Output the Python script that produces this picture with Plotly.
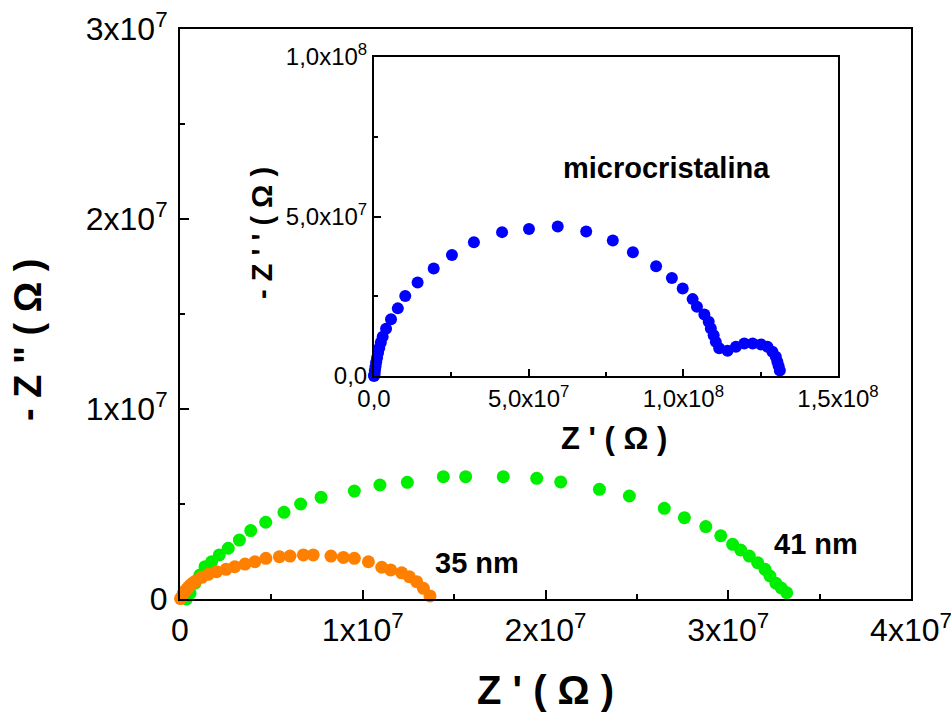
import plotly.graph_objects as go

# ---- data (units: Ohm) ----
green_x = [0.036, 0.055, 0.082, 0.109, 0.137, 0.173, 0.215, 0.264, 0.325, 0.387, 0.469, 0.569, 0.660,
           0.772, 0.954, 1.094, 1.244, 1.441, 1.563, 1.769, 1.952, 2.083, 2.295, 2.459, 2.650, 2.760,
           2.877, 2.959, 3.024, 3.068, 3.115, 3.161, 3.201, 3.228, 3.261, 3.290, 3.320]
green_y = [0.0, 0.030, 0.083, 0.126, 0.170, 0.196, 0.232, 0.267, 0.310, 0.360, 0.404, 0.456, 0.500,
           0.535, 0.568, 0.600, 0.614, 0.644, 0.644, 0.644, 0.635, 0.616, 0.577, 0.542, 0.477, 0.428,
           0.381, 0.333, 0.288, 0.258, 0.226, 0.191, 0.156, 0.121, 0.083, 0.058, 0.033]

orange_x = [0.003, 0.009, 0.018, 0.027, 0.036, 0.047, 0.058, 0.072, 0.088, 0.119, 0.155, 0.200, 0.252,
            0.300, 0.356, 0.410, 0.470, 0.544, 0.602, 0.675, 0.729, 0.826, 0.894, 0.954, 1.031, 1.104,
            1.153, 1.213, 1.255, 1.295, 1.332, 1.368]
orange_y = [0.002, 0.009, 0.030, 0.041, 0.051, 0.063, 0.074, 0.085, 0.096, 0.114, 0.130, 0.144, 0.156,
            0.170, 0.184, 0.196, 0.214, 0.223, 0.226, 0.232, 0.232, 0.226, 0.219, 0.214, 0.196, 0.167,
            0.153, 0.138, 0.117, 0.091, 0.056, 0.016]

blue_x = [0.00, 0.01, 0.02, 0.03, 0.05, 0.07, 0.10, 0.13, 0.17, 0.22, 0.28, 0.39, 0.55, 0.77, 1.01, 1.41,
          1.93, 2.52, 3.23, 4.14, 5.01, 5.94, 6.86, 7.72, 8.37, 9.12, 9.63, 9.98, 10.30, 10.44, 10.68,
          10.82, 10.89, 10.98, 11.05, 11.16, 11.43, 11.70, 11.97, 12.24, 12.51, 12.72, 12.88, 12.99,
          13.04, 13.08, 13.12]
blue_y = [0.00, 0.02, 0.08, 0.18, 0.30, 0.43, 0.57, 0.72, 0.88, 1.05, 1.23, 1.48, 1.78, 2.12, 2.51, 2.93,
          3.37, 3.79, 4.19, 4.51, 4.61, 4.69, 4.53, 4.25, 3.88, 3.44, 3.07, 2.74, 2.41, 2.17, 1.93,
          1.70, 1.49, 1.28, 1.07, 0.87, 0.79, 0.92, 1.02, 1.02, 0.99, 0.92, 0.76, 0.60, 0.45,
          0.31, 0.17]
SCALE = 1e7

main_xticks = [0, 1e7, 2e7, 3e7, 4e7]
main_xticktext = ["0", "1x10<sup>7</sup>", "2x10<sup>7</sup>", "3x10<sup>7</sup>", "4x10<sup>7</sup>"]
main_yticks = [0, 1e7, 2e7, 3e7]
main_yticktext = ["0", "1x10<sup>7</sup>", "2x10<sup>7</sup>", "3x10<sup>7</sup>"]
inset_xticks = [0, 5e7, 1e8, 1.5e8]
inset_xticktext = ["0,0", "5,0x10<sup>7</sup>", "1,0x10<sup>8</sup>", "1,5x10<sup>8</sup>"]
inset_yticks = [0, 5e7, 1e8]
inset_yticktext = ["0,0", "5,0x10<sup>7</sup>", "1,0x10<sup>8</sup>"]

FONT = "Arial, Liberation Sans, sans-serif"
NARROW = "Liberation Sans Narrow, Arial Narrow, Arial, Liberation Sans, sans-serif"

fig = go.Figure()
fig.add_trace(go.Scatter(x=[v * SCALE for v in green_x], y=[v * SCALE for v in green_y], mode="markers",
                         marker=dict(color="#00EE00", size=13), cliponaxis=False, xaxis="x", yaxis="y"))
fig.add_trace(go.Scatter(x=[v * SCALE for v in orange_x], y=[v * SCALE for v in orange_y], mode="markers",
                         marker=dict(color="#FF8000", size=13), cliponaxis=False, xaxis="x", yaxis="y"))
fig.add_trace(go.Scatter(x=[v * SCALE for v in blue_x], y=[v * SCALE for v in blue_y], mode="markers",
                         marker=dict(color="#0000FF", size=12), cliponaxis=False, xaxis="x2", yaxis="y2"))

L, R, T, B = 180, 40, 29, 116
PW, PH = 951 - L - R, 715 - T - B


def px(xp):
    return (xp - L) / PW


def py(yp):
    return (715 - B - yp) / PH


axis_common = dict(showline=True, linecolor="black", linewidth=2, mirror=True, ticks="inside",
                   tickcolor="black", tickwidth=2, showgrid=False, zeroline=False, tickmode="array",
                   automargin=False, ticklabeloverflow="allow")

fig.update_layout(
    width=951, height=715, margin=dict(l=L, r=R, t=T, b=B, autoexpand=False),
    plot_bgcolor="white", paper_bgcolor="white", showlegend=False,
    font=dict(family=FONT, color="black"),
    xaxis=dict(**axis_common, range=[0, 4e7], tickvals=main_xticks, ticktext=main_xticktext, ticklen=9,
               tickfont=dict(size=32, family=NARROW), ticklabelstandoff=2,
               minor=dict(ticks="inside", ticklen=5, tickwidth=2, tickcolor="black",
                          tickmode="linear", tick0=0, dtick=5e6)),
    yaxis=dict(**axis_common, range=[0, 3e7], tickvals=main_yticks, ticktext=main_yticktext, ticklen=9,
               tickfont=dict(size=32, family=NARROW), ticklabelstandoff=4,
               minor=dict(ticks="inside", ticklen=5, tickwidth=2, tickcolor="black",
                          tickmode="linear", tick0=0, dtick=5e6)),
    xaxis2=dict(**axis_common, range=[0, 1.5e8], domain=[px(374), px(838)], anchor="y2",
                tickvals=inset_xticks, ticktext=inset_xticktext, ticklen=7,
                tickfont=dict(size=24, family=NARROW),
                minor=dict(ticks="inside", ticklen=4, tickwidth=2, tickcolor="black",
                           tickmode="linear", tick0=0, dtick=2.5e7)),
    yaxis2=dict(**axis_common, range=[0, 1e8], domain=[py(376), py(57)], anchor="x2",
                tickvals=inset_yticks, ticktext=inset_yticktext, ticklen=7,
                tickfont=dict(size=24, family=NARROW),
                minor=dict(ticks="inside", ticklen=4, tickwidth=2, tickcolor="black",
                           tickmode="linear", tick0=0, dtick=2.5e7)),
)

annotations = [
    dict(text="<b>35 nm</b>", x=1.625e7, y=0.189e7, xref="x", yref="y", showarrow=False,
         xanchor="center", yanchor="middle", font=dict(size=29)),
    dict(text="<b>41 nm</b>", x=3.48e7, y=0.289e7, xref="x", yref="y", showarrow=False,
         xanchor="center", yanchor="middle", font=dict(size=29)),
    dict(text="<b>microcristalina</b>", x=px(666), y=py(168), xref="paper", yref="paper", showarrow=False,
         xanchor="center", yanchor="middle", font=dict(size=29)),
    dict(text="<b>Z ' ( Ω )</b>", x=px(545), y=py(690), xref="paper", yref="paper", showarrow=False,
         xanchor="center", yanchor="middle", font=dict(size=40)),
    dict(text="<b>- Z \" ( Ω )</b>", x=px(28), y=py(340), xref="paper", yref="paper", showarrow=False,
         xanchor="center", yanchor="middle", textangle=-90, font=dict(size=38)),
    dict(text="<b>Z ' ( Ω )</b>", x=px(614), y=py(438), xref="paper", yref="paper", showarrow=False,
         xanchor="center", yanchor="middle", font=dict(size=31)),
    dict(text="<b>- Z ' ' ( Ω )</b>", x=px(262), y=py(233), xref="paper", yref="paper", showarrow=False,
         xanchor="center", yanchor="middle", textangle=-90, font=dict(size=29)),
]
fig.update_layout(annotations=annotations)

fig.write_html("out.html")
